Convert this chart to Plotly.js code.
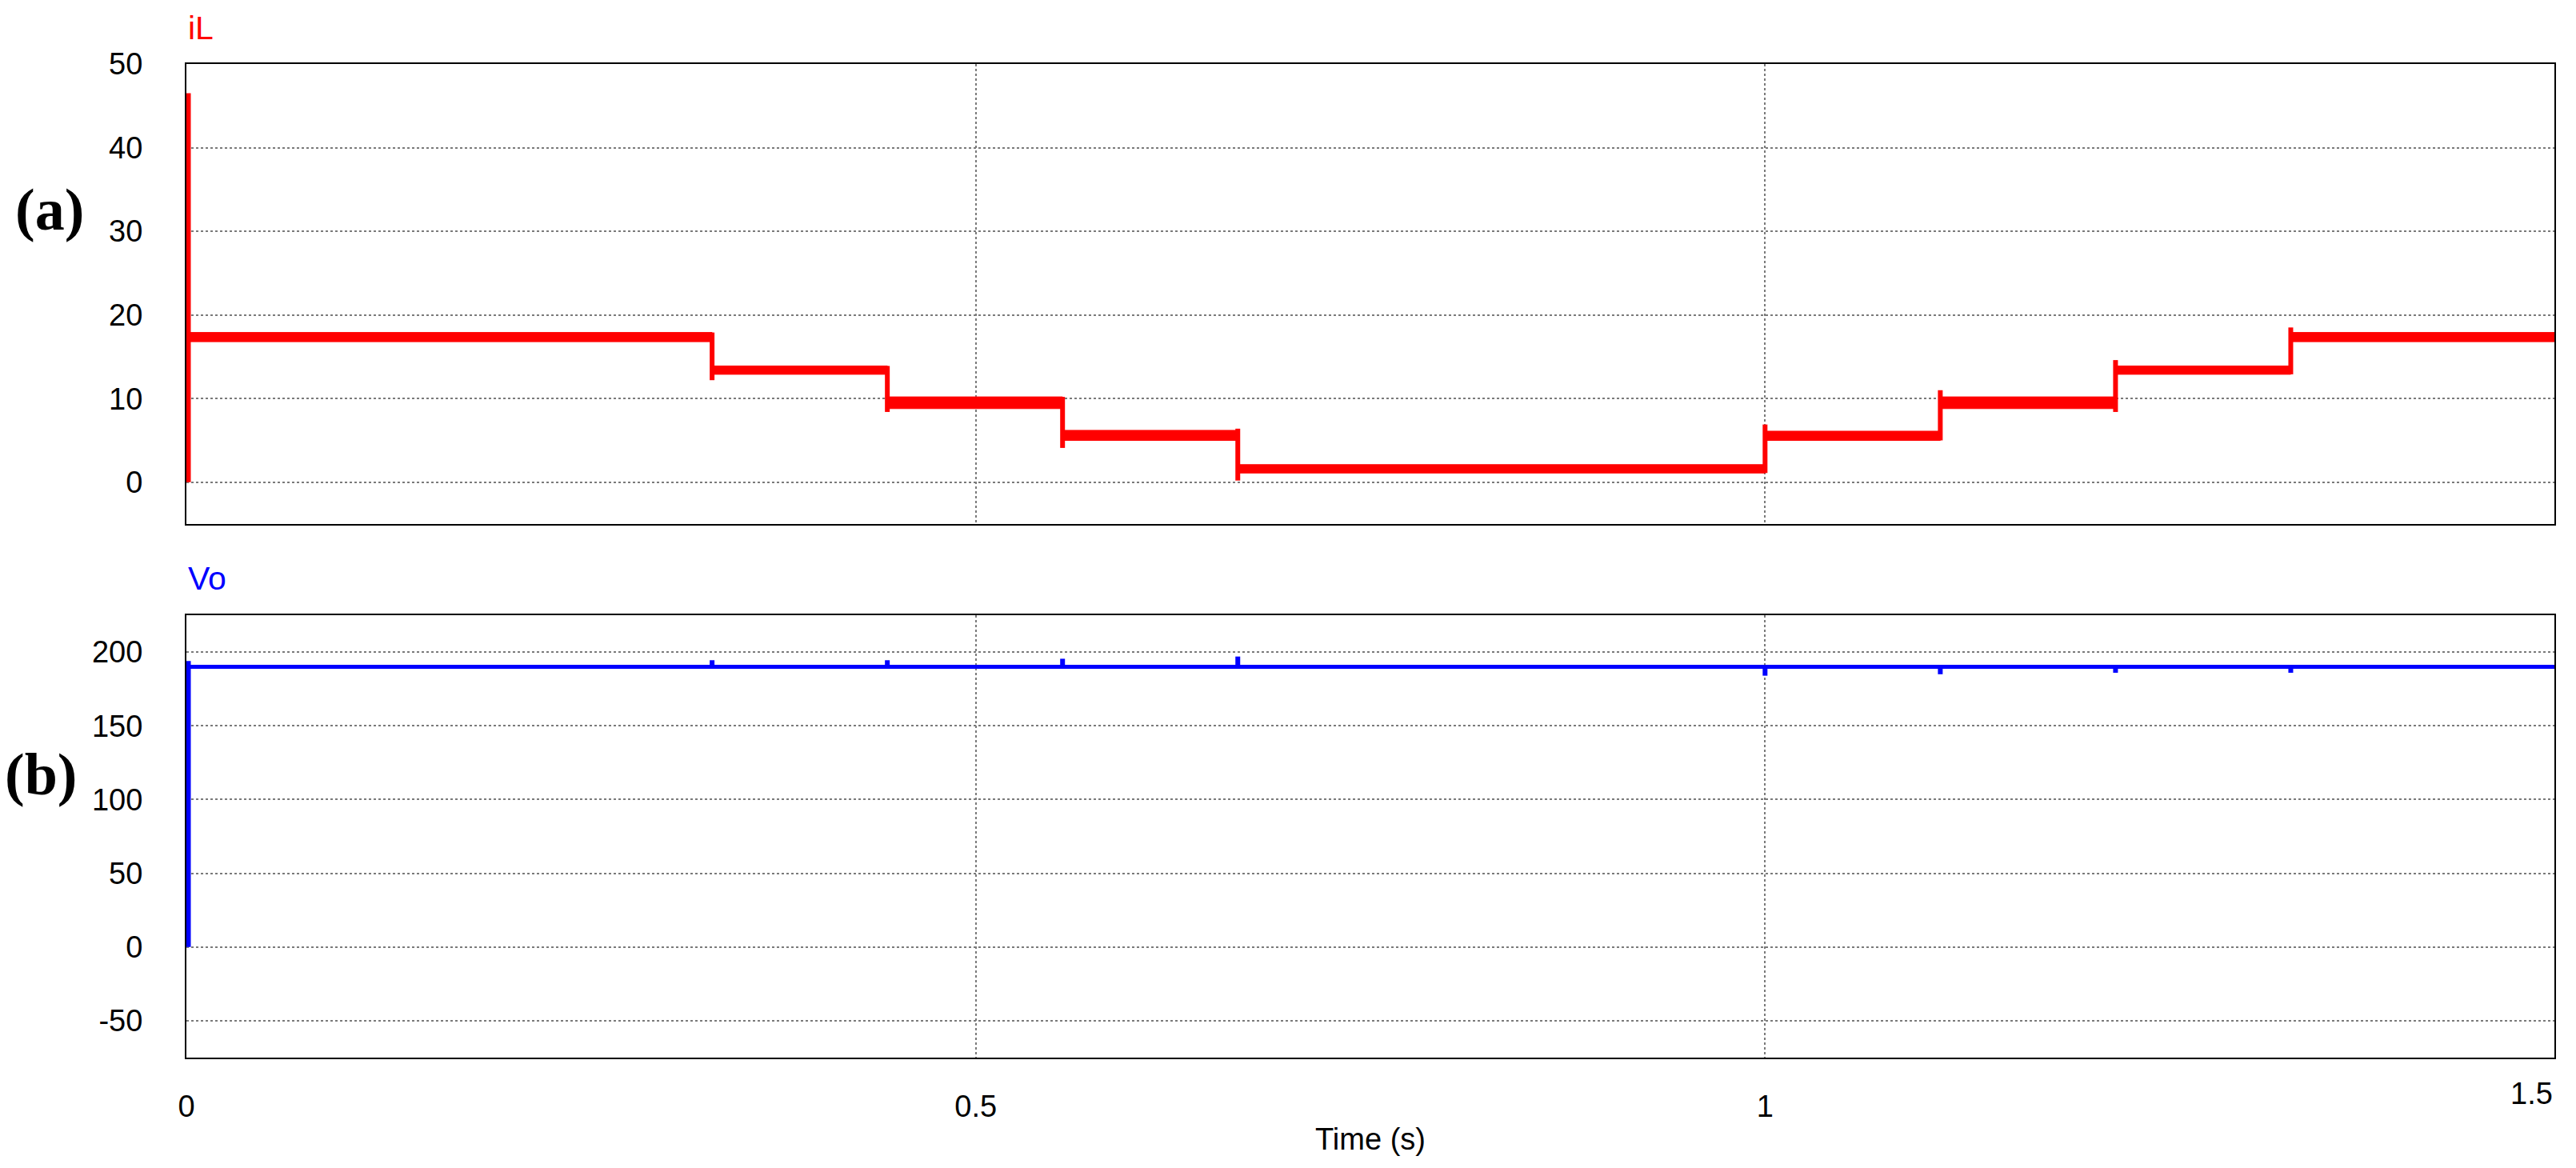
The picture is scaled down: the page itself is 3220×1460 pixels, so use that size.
<!DOCTYPE html>
<html>
<head>
<meta charset="utf-8">
<script src="https://cdn.plot.ly/plotly-3.0.1.min.js"></script>
<style>
  html, body { margin: 0; padding: 0; background: #fff; }
  #plotArea { width: 3220px; height: 1460px; }
</style>
</head>
<body>
<div id="plotArea"></div>
<script>
// load steps of the converter (time in s)
var stepTimes = [0, 0.333, 0.444, 0.555, 0.666, 1.0, 1.111, 1.222, 1.333];
var endTime = 1.5;

// iL ripple band (top / bottom edge of each step, A)
var bandHigh = [17.9, 13.9, 10.2, 6.2, 2.1, 6.1, 10.2, 13.9, 17.9];
var bandLow  = [16.8, 12.9, 8.8, 5.0, 1.1, 5.0, 8.8, 12.9, 16.8];

// iL transient at each step (lowest / highest value of the vertical jump)
var iLSpikeLow  = [0, 12.2, 8.4, 4.1, 0.2, 1.1, 5.0, 8.4, 12.9];
var iLSpikeHigh = [46.5, 17.9, 13.9, 10.2, 6.4, 6.9, 11.0, 14.6, 18.5];

// Vo (V): start-up value, steady value and small spikes at each step
var voStart = 0;
var voLevel = 190;
var voSpike = [194, 194.5, 194.5, 195.5, 197, 184, 185, 186, 186];

// axis ticks
var iLTicks = [0, 10, 20, 30, 40, 50];
var voTicks = [-50, 0, 50, 100, 150, 200];
var voTickText = ['-50', '0', '50', '100', '150', '200'];
var xTickVals = [0, 0.5, 1, 1.5];
var xTickText = ['0', '0.5', '1', '1.5'];

var red = '#ff0000';
var blue = '#0000ff';

// band polygon: upper edge left to right, lower edge back
var segEnd = stepTimes.slice(1).concat([endTime]);
var bandX = [], bandY = [];
stepTimes.forEach(function(t, i) {
    bandX.push(t, segEnd[i]);
    bandY.push(bandHigh[i], bandHigh[i]);
});
for (var i = stepTimes.length - 1; i >= 0; i--) {
    bandX.push(segEnd[i], stepTimes[i]);
    bandY.push(bandLow[i], bandLow[i]);
}

var iLBand = {
    x: bandX, y: bandY,
    mode: 'lines', fill: 'toself', fillcolor: red,
    line: {color: red, width: 1},
    xaxis: 'x', yaxis: 'y', hoverinfo: 'skip'
};

// vertical jumps; the one at t=0 sits on the frame and is half clipped, so draw it wider
var jumpX = [], jumpY = [];
stepTimes.forEach(function(t, i) {
    if (i === 0) return;
    jumpX.push(t, t, null);
    jumpY.push(iLSpikeLow[i], iLSpikeHigh[i], null);
});
var iLJumps = {
    x: jumpX, y: jumpY, mode: 'lines',
    line: {color: red, width: 6},
    xaxis: 'x', yaxis: 'y'
};
var iLStart = {
    x: [stepTimes[0], stepTimes[0]], y: [iLSpikeLow[0], iLSpikeHigh[0]], mode: 'lines',
    line: {color: red, width: 11},
    xaxis: 'x', yaxis: 'y'
};

var voLine = {
    x: [0, endTime], y: [voLevel, voLevel], mode: 'lines',
    line: {color: blue, width: 5},
    xaxis: 'x2', yaxis: 'y2'
};
var spikeX = [], spikeY = [];
stepTimes.forEach(function(t, i) {
    if (i === 0) return;
    spikeX.push(t, t, null);
    spikeY.push(voLevel, voSpike[i], null);
});
var voSpikes = {
    x: spikeX, y: spikeY, mode: 'lines',
    line: {color: blue, width: 6},
    xaxis: 'x2', yaxis: 'y2'
};
var voRise = {
    x: [stepTimes[0], stepTimes[0]], y: [voStart, voSpike[0]], mode: 'lines',
    line: {color: blue, width: 11},
    xaxis: 'x2', yaxis: 'y2'
};

var sans = 'Liberation Sans, Arial, sans-serif';
var tickFont = {family: sans, size: 38, color: '#000'};

function frame(extra) {
    var ax = {
        showline: true, mirror: true, linecolor: '#000', linewidth: 2,
        showgrid: true, gridcolor: '#7a7a7a', griddash: 'dot', gridwidth: 2,
        zeroline: false, ticks: '', tickfont: tickFont, layer: 'below traces'
    };
    for (var k in extra) ax[k] = extra[k];
    return ax;
}

var layout = {
    width: 3220, height: 1460,
    margin: {l: 233, r: 27, t: 80, b: 138},
    paper_bgcolor: '#fff', plot_bgcolor: '#fff',
    showlegend: false,
    xaxis: frame({domain: [0, 1], anchor: 'y', range: [0, endTime],
                  tickvals: xTickVals.slice(0, 3), showticklabels: false}),
    yaxis: frame({domain: [0.537, 1], anchor: 'x', range: [-5, 50],
                  tickvals: iLTicks, ticklabelstandoff: 45}),
    xaxis2: frame({domain: [0, 1], anchor: 'y2', range: [0, endTime],
                   tickvals: xTickVals.slice(0, 3), ticktext: xTickText.slice(0, 3),
                   ticklabelstandoff: 26,
                   title: {text: 'Time (s)', standoff: 8,
                           font: {family: sans, size: 38, color: '#000'}}}),
    yaxis2: frame({domain: [0, 0.4452], anchor: 'x2', range: [-75, 225],
                   tickvals: voTicks, ticktext: voTickText, ticklabelstandoff: 45}),
    annotations: [
        {text: 'iL', xref: 'paper', yref: 'paper', x: 0, y: 1.036,
         xanchor: 'left', yanchor: 'middle', showarrow: false,
         font: {family: sans, size: 41, color: red}},
        {text: 'Vo', xref: 'paper', yref: 'paper', x: 0, y: 0.4823,
         xanchor: 'left', yanchor: 'middle', showarrow: false,
         font: {family: sans, size: 41, color: blue}},
        {text: '<b>(a)</b>', xref: 'paper', yref: 'paper', x: -0.0578, y: 0.8535,
         xanchor: 'center', yanchor: 'middle', showarrow: false,
         font: {family: 'Liberation Serif, Times New Roman, serif', size: 74, color: '#000'}},
        {text: '<b>(b)</b>', xref: 'paper', yref: 'paper', x: -0.0615, y: 0.285,
         xanchor: 'center', yanchor: 'middle', showarrow: false,
         font: {family: 'Liberation Serif, Times New Roman, serif', size: 74, color: '#000'}},
        {text: xTickText[3], xref: 'x2', yref: 'paper', x: xTickVals[3], y: -0.0362,
         xanchor: 'right', yanchor: 'middle', showarrow: false, font: tickFont}
    ]
};

Plotly.newPlot('plotArea', [iLBand, iLJumps, iLStart, voLine, voSpikes, voRise], layout, {staticPlot: true});
</script>
</body>
</html>
